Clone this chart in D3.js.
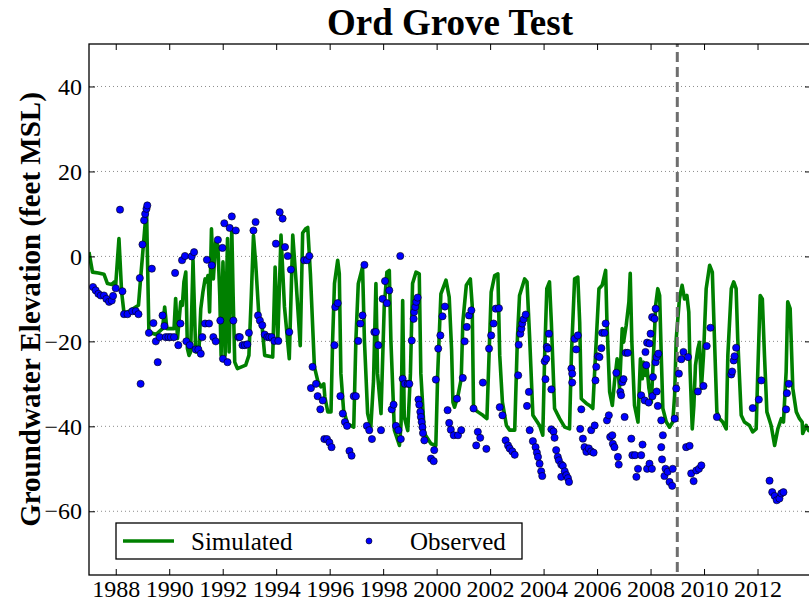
<!DOCTYPE html>
<html>
<head>
<meta charset="utf-8">
<script src="https://cdn.jsdelivr.net/npm/d3@7"></script>
<style>
  html, body { margin: 0; padding: 0; background: #fff; }
  svg { display: block; }
  text { font-family: "Liberation Serif", "DejaVu Serif", serif; fill: #000; }
</style>
</head>
<body>
<svg id="chart"></svg>
<script>
// Simulated groundwater elevation (decimal year, feet MSL)
const simYears = [
  1987.00, 1987.13, 1987.35, 1987.56, 1987.69, 1987.85, 1987.95, 1988.00, 1988.12, 1988.22,
  1988.31, 1988.56, 1988.85, 1988.93, 1989.15, 1989.24, 1989.50, 1989.75, 1989.83, 1989.91,
  1990.18, 1990.24, 1990.31, 1990.43, 1990.49, 1990.55, 1990.62, 1990.68, 1990.74, 1990.80,
  1990.89, 1990.99, 1991.11, 1991.18, 1991.26, 1991.34, 1991.39, 1991.45, 1991.51, 1991.58,
  1991.65, 1991.74, 1991.82, 1991.89, 1991.94, 1992.01, 1992.09, 1992.18, 1992.24, 1992.34,
  1992.39, 1992.45, 1992.55, 1992.86, 1992.98, 1993.07, 1993.15, 1993.23, 1993.36, 1993.48,
  1993.57, 1993.87, 1993.96, 1994.06, 1994.18, 1994.31, 1994.49, 1994.62, 1994.74, 1994.90,
  1994.99, 1995.10, 1995.18, 1995.28, 1995.43, 1995.55, 1995.67, 1995.78, 1995.82, 1995.93,
  1996.05, 1996.11, 1996.18, 1996.30, 1996.36, 1996.42, 1996.52, 1996.67, 1996.90, 1996.98,
  1997.07, 1997.23, 1997.30, 1997.42, 1997.54, 1997.64, 1997.73, 1997.79, 1997.92, 1998.04,
  1998.14, 1998.23, 1998.29, 1998.42, 1998.61, 1998.67, 1998.73, 1998.79, 1998.92, 1999.02,
  1999.10, 1999.23, 1999.35, 1999.41, 1999.54, 1999.79, 1999.97, 2000.04, 2000.16, 2000.35,
  2000.47, 2000.56, 2000.61, 2000.67, 2000.80, 2000.92, 2000.98, 2001.11, 2001.26, 2001.33,
  2001.38, 2001.54, 2001.73, 2001.88, 2001.96, 2002.04, 2002.17, 2002.29, 2002.36, 2002.46,
  2002.61, 2002.73, 2002.92, 2003.02, 2003.10, 2003.29, 2003.38, 2003.48, 2003.60, 2003.85,
  2003.97, 2004.04, 2004.12, 2004.22, 2004.29, 2004.41, 2004.60, 2004.79, 2004.97, 2005.04,
  2005.16, 2005.28, 2005.35, 2005.41, 2005.60, 2005.72, 2005.84, 2005.94, 2006.07, 2006.19,
  2006.32, 2006.37, 2006.47, 2006.57, 2006.65, 2006.75, 2006.84, 2006.94, 2006.99, 2007.09,
  2007.19, 2007.24, 2007.30, 2007.40, 2007.53, 2007.62, 2007.69, 2007.74, 2007.81, 2007.86,
  2007.94, 2008.03, 2008.11, 2008.19, 2008.27, 2008.34, 2008.40, 2008.46, 2008.59, 2008.71,
  2008.83, 2008.90, 2008.96, 2009.08, 2009.18, 2009.27, 2009.36, 2009.43, 2009.48, 2009.56,
  2009.62, 2009.68, 2009.77, 2009.83, 2009.90, 2009.98, 2010.08, 2010.21, 2010.31, 2010.39,
  2010.48, 2010.58, 2010.70, 2010.83, 2010.89, 2011.02, 2011.11, 2011.20, 2011.26, 2011.39,
  2011.51, 2011.70, 2011.82, 2011.95, 2012.01, 2012.10, 2012.18, 2012.26, 2012.35, 2012.51,
  2012.64, 2012.76, 2012.89, 2012.97, 2013.07, 2013.13, 2013.22, 2013.32, 2013.45, 2013.57,
  2013.67, 2013.69, 2013.82, 2013.91, 2014.00
];
const simElev = [
  1.0, -3.7, -3.9, -4.2, -6.4, -6.6, -6.0, -6.6, 4.2, -8.4,
  -13.4, -12.7, -11.5, -5.2, 11.5, -17.8, -18.4, -17.0, -11.9, -17.0,
  -17.0, -9.9, -19.3, -10.7, -11.5, -6.0, -3.7, -21.7, -23.3, -22.5,
  -0.9, -22.5, -22.5, -12.3, -8.4, -5.3, -6.0, -4.5, -13.1, 6.5,
  -5.3, 3.4, 2.6, -9.2, -23.3, -1.3, -23.3, 4.2, -22.5, 6.5,
  -9.2, -24.9, -26.4, -25.6, -23.3, -9.2, 4.9, -1.3, -14.7, -17.0,
  -23.3, -23.7, -2.5, -19.8, 5.0, -11.9, -24.1, 5.0, -5.6, -21.0,
  5.5, 6.5, 6.8, -4.1, -26.0, -29.2, -30.7, -30.0, -33.1, -36.6,
  -36.6, -19.8, -6.4, -0.9, -4.1, -27.6, -36.2, -39.4, -40.2, -19.8,
  -6.4, -2.5, -19.8, -37.0, -40.2, -29.2, -6.4, -27.6, -37.0, -11.9,
  -3.7, -3.3, -19.8, -40.9, -44.5, -39.4, -10.4, -37.8, -41.0, -27.6,
  -6.4, -3.7, -4.1, -27.6, -41.7, -44.1, -44.5, -27.6, -8.8, -5.6,
  -9.6, -22.0, -34.3, -35.5, -32.7, -28.8, -15.5, -6.8, -5.3, -11.5,
  -35.8, -36.6, -37.4, -38.2, -23.3, -8.4, -4.5, -4.1, -23.3, -34.3,
  -39.8, -40.9, -40.9, -19.4, -9.2, -5.3, -6.0, -19.4, -37.4, -39.8,
  -42.1, -23.3, -7.6, -6.0, -15.5, -35.8, -38.2, -40.2, -40.6, -23.3,
  -5.3, -4.9, -15.5, -33.5, -34.6, -35.1, -35.8, -23.3, -7.6, -6.8,
  -3.3, -15.5, -31.9, -35.1, -29.6, -24.1, -31.1, -17.0, -20.2, -16.2,
  -10.7, -4.0, -20.0, -35.1, -39.0, -24.1, -28.8, -24.9, -28.0, -25.6,
  -31.1, -34.3, -23.3, -11.5, -7.6, -9.2, -23.3, -35.8, -39.0, -40.2,
  -39.0, -32.7, -19.4, -10.0, -6.8, -10.0, -9.2, -13.1, -27.2, -40.6,
  -35.1, -25.6, -21.7, -20.2, -31.1, -23.3, -7.6, -2.1, -3.7, -19.4,
  -36.6, -38.2, -39.0, -40.6, -23.3, -7.6, -6.0, -7.6, -19.4, -37.4,
  -39.0, -39.8, -41.3, -40.6, -27.2, -9.2, -10.0, -23.3, -36.6, -39.8,
  -44.5, -40.6, -38.2, -39.0, -27.2, -10.7, -12.3, -31.1, -36.6, -38.2,
  -39.0, -41.7, -39.8, -41.0, -40.5
];

// Observed groundwater elevation (decimal year, feet MSL)
const obsYears = [
  1987.15, 1987.25, 1987.35, 1987.44, 1987.56, 1987.65, 1987.75, 1987.85, 1987.90, 1988.00,
  1988.16, 1988.25, 1988.31, 1988.44, 1988.62, 1988.75, 1988.85, 1988.90, 1988.93, 1989.00,
  1989.06, 1989.10, 1989.15, 1989.18, 1989.24, 1989.35, 1989.41, 1989.50, 1989.57, 1989.64,
  1989.75, 1989.82, 1989.87, 1989.97, 1990.06, 1990.18, 1990.22, 1990.34, 1990.42, 1990.48,
  1990.59, 1990.64, 1990.77, 1990.84, 1990.93, 1990.99, 1991.09, 1991.18, 1991.24, 1991.34,
  1991.41, 1991.49, 1991.59, 1991.65, 1991.74, 1991.82, 1991.91, 1991.99, 1992.01, 1992.06,
  1992.18, 1992.26, 1992.34, 1992.40, 1992.49, 1992.59, 1992.64, 1992.74, 1992.83, 1992.92,
  1992.98, 1993.15, 1993.23, 1993.32, 1993.39, 1993.48, 1993.57, 1993.67, 1993.74, 1993.83,
  1993.93, 1993.99, 1994.08, 1994.13, 1994.24, 1994.33, 1994.43, 1994.49, 1994.55, 1995.05,
  1995.15, 1995.24, 1995.30, 1995.36, 1995.49, 1995.55, 1995.65, 1995.74, 1995.80, 1995.90,
  1995.99, 1996.07, 1996.18, 1996.21, 1996.30, 1996.40, 1996.49, 1996.57, 1996.65, 1996.74,
  1996.82, 1996.90, 1996.98, 1997.07, 1997.15, 1997.23, 1997.30, 1997.39, 1997.48, 1997.58,
  1997.67, 1997.73, 1997.82, 1997.92, 1997.98, 1998.07, 1998.14, 1998.23, 1998.32, 1998.39,
  1998.48, 1998.57, 1998.64, 1998.66, 1998.73, 1998.81, 1998.92, 1998.98, 1999.07, 1999.14,
  1999.16, 1999.20, 1999.24, 1999.29, 1999.32, 1999.35, 1999.39, 1999.41, 1999.44, 1999.47,
  1999.49, 1999.54, 1999.79, 1999.89, 1999.91, 1999.97, 2000.06, 2000.14, 2000.22, 2000.31,
  2000.41, 2000.47, 2000.53, 2000.64, 2000.76, 2000.80, 2000.92, 2000.98, 2001.05, 2001.13,
  2001.21, 2001.30, 2001.38, 2001.48, 2001.54, 2001.63, 2001.73, 2001.86, 2001.96, 2002.04,
  2002.13, 2002.21, 2002.33, 2002.36, 2002.46, 2002.58, 2002.67, 2002.73, 2002.83, 2002.92,
  2003.05, 2003.07, 2003.13, 2003.17, 2003.20, 2003.25, 2003.33, 2003.38, 2003.45, 2003.48,
  2003.60, 2003.70, 2003.75, 2003.79, 2003.85, 2003.91, 2003.95, 2004.04, 2004.07, 2004.10,
  2004.12, 2004.16, 2004.20, 2004.29, 2004.29, 2004.37, 2004.41, 2004.47, 2004.53, 2004.57,
  2004.66, 2004.66, 2004.72, 2004.79, 2004.85, 2004.91, 2004.95, 2005.04, 2005.07, 2005.07,
  2005.16, 2005.22, 2005.28, 2005.37, 2005.41, 2005.47, 2005.53, 2005.60, 2005.69, 2005.78,
  2005.87, 2005.78, 2005.91, 2005.94, 2005.97, 2006.03, 2006.09, 2006.16, 2006.19, 2006.28,
  2006.32, 2006.37, 2006.44, 2006.49, 2006.57, 2006.59, 2006.65, 2006.72, 2006.78, 2006.81,
  2006.87, 2006.90, 2006.94, 2006.99, 2007.03, 2007.07, 2007.15, 2007.28, 2007.32, 2007.42,
  2007.47, 2007.53, 2007.65, 2007.70, 2007.87, 2007.96, 2008.05, 2007.65, 2007.78, 2007.93,
  2008.07, 2007.81, 2007.84, 2007.87, 2007.96, 2008.00, 2008.09, 2008.19, 2008.23, 2008.29,
  2008.06, 2008.15, 2008.19, 2008.23, 2008.27, 2008.40, 2008.46, 2008.40, 2008.43, 2008.56,
  2008.52, 2008.64, 2008.71, 2008.81, 2008.83, 2008.90, 2008.96, 2009.06, 2009.15, 2009.23,
  2009.40, 2009.33, 2009.46, 2009.52, 2009.61, 2009.71, 2009.81, 2009.90, 2009.77, 2009.98,
  2010.10, 2010.24, 2010.48, 2011.02, 2011.05, 2011.11, 2011.14, 2011.20, 2011.82, 2012.05,
  2012.14, 2012.45, 2012.55, 2012.64, 2012.72, 2012.82, 2012.89, 2012.97, 2013.07, 2013.10,
  2013.17
];
const obsElev = [
  -7.2, -8.0, -8.8, -9.2, -9.2, -10.0, -10.7, -10.4, -9.3, -7.5,
  11.0, -8.2, -13.6, -13.6, -12.9, -12.9, -13.6, -5.1, -30.0, 2.8,
  8.5, 10.0, 11.2, 12.0, -18.0, -2.9, -15.7, -20.0, -24.9, -19.0,
  -13.9, -16.4, -19.0, -19.0, -19.0, -19.0, -3.9, -20.9, -15.8, -0.9,
  0.1, -20.0, -20.9, 0.0, 1.0, -21.9, -21.9, -22.9, -19.0, -15.8,
  -0.8, -15.8, -2.1, -19.0, -20.0, 3.9, -15.1, 2.0, -24.1, 7.8,
  -24.9, 6.7, 9.4, -15.1, 6.1, -19.0, -19.0, -20.9, -20.9, -20.7,
  -18.0, 6.1, 8.1, -13.9, -15.1, -16.2, -18.4, -19.0, -19.0, -19.0,
  -19.9, 3.0, -19.9, 10.4, 8.9, 2.2, 0.1, -17.8, -3.1, -0.9,
  -0.9, 0.1, -31.0, -26.0, -30.0, -32.9, -36.0, -33.9, -43.0, -43.0,
  -43.8, -44.9, -20.9, -11.9, -11.0, -32.9, -37.0, -39.0, -39.9, -45.8,
  -46.9, -32.9, -32.9, -19.9, -15.8, -13.9, -2.0, -39.9, -40.9, -43.0,
  -17.8, -17.8, -20.9, -40.9, -10.0, -5.8, -11.0, -8.0, -36.0, -34.9,
  -39.9, -40.9, 0.1, -43.0, -28.8, -30.0, -30.0, -30.0, -19.8, -14.7,
  -13.1, -11.9, -10.7, -9.7, -33.7, -34.9, -36.6, -37.8, -39.0, -40.2,
  -41.6, -43.3, -47.6, -48.2, -45.6, -29.0, -21.7, -18.6, -14.1, -11.8,
  -36.2, -39.2, -40.8, -42.1, -33.5, -42.1, -40.9, -28.6, -20.0, -16.6,
  -13.9, -12.7, -35.8, -44.5, -41.3, -42.7, -29.7, -45.3, -21.7, -18.6,
  -15.8, -12.3, -12.2, -35.5, -37.4, -43.3, -44.5, -45.2, -45.9, -46.7,
  -28.0, -20.8, -18.2, -17.0, -15.8, -14.8, -13.7, -35.2, -31.9, -40.9,
  -43.5, -44.9, -46.2, -47.2, -48.8, -50.6, -51.7, -24.7, -28.9, -24.1,
  -21.3, -21.7, -18.2, -31.3, -40.7, -41.2, -42.7, -45.6, -47.2, -48.0,
  -49.0, -51.9, -49.3, -50.6, -51.5, -52.2, -53.1, -26.4, -27.6, -29.7,
  -19.4, -21.9, -18.6, -40.6, -36.0, -42.9, -44.9, -46.0, -45.2, -45.9,
  -46.2, -40.9, -39.8, -29.2, -26.0, -23.5, -23.7, -21.6, -18.0, -18.0,
  -15.8, -38.6, -37.4, -42.5, -42.1, -44.1, -44.9, -27.4, -47.2, -49.0,
  -31.9, -32.7, -29.6, -28.9, -37.8, -22.7, -22.7, -42.9, -46.8, -46.8,
  -51.9, -50.0, -46.8, -44.3, -50.0, -48.8, -50.0, -32.7, -33.9, -34.4,
  -32.9, -22.5, -25.6, -20.3, -20.5, -18.2, -28.4, -24.9, -23.7, -22.9,
  -14.3, -14.7, -12.3, -31.8, -35.2, -38.6, -42.1, -44.9, -47.8, -50.0,
  -51.7, -50.7, -53.1, -54.0, -50.0, -38.2, -31.1, -27.6, -24.2, -22.5,
  -23.7, -44.9, -44.6, -51.1, -52.9, -50.4, -50.0, -49.2, -31.8, -30.5,
  -21.1, -16.8, -37.8, -27.8, -27.1, -24.5, -23.5, -21.5, -35.7, -33.7,
  -29.2, -52.8, -55.5, -56.4, -57.4, -57.0, -55.8, -55.5, -36.0, -32.2,
  -30.0
];

const xTickYears = [1988, 1990, 1992, 1994, 1996, 1998, 2000, 2002, 2004, 2006, 2008, 2010, 2012];
const yTickValues = [-60, -40, -20, 0, 20, 40];
const calibrationEnd = 2009.0;
const legendLabels = ["Simulated", "Observed"];

const width = 809, height = 605;
const margin = { top: 44, right: -2, bottom: 30, left: 89 };

const svg = d3.select("#chart")
  .attr("width", width)
  .attr("height", height);

const x = d3.scaleLinear()
  .domain([1987, 2014])
  .range([margin.left, width - margin.right]);

const y = d3.scaleLinear()
  .domain([-75, 50])
  .range([height - margin.bottom, margin.top]);

const x0 = x.range()[0], x1 = x.range()[1];
const y0 = y.range()[0], y1 = y.range()[1];

svg.append("defs").append("clipPath")
  .attr("id", "plot-clip")
  .append("rect")
  .attr("x", x0).attr("y", y1)
  .attr("width", x1 - x0).attr("height", y0 - y1);

// dotted horizontal grid
svg.append("g")
  .selectAll("line")
  .data(yTickValues)
  .join("line")
    .attr("x1", x0).attr("x2", x1)
    .attr("y1", d => y(d)).attr("y2", d => y(d))
    .attr("stroke", "#8c8c8c")
    .attr("stroke-width", 1)
    .attr("stroke-dasharray", "1,3");

const plot = svg.append("g").attr("clip-path", "url(#plot-clip)");

const simData = simYears.map((t, i) => [t, simElev[i]]);
const obsData = obsYears.map((t, i) => [t, obsElev[i]]);

const line = d3.line()
  .x(d => x(d[0]))
  .y(d => y(d[1]));

plot.append("path")
  .datum(simData)
  .attr("fill", "none")
  .attr("stroke", "#008000")
  .attr("stroke-width", 3.6)
  .attr("stroke-linejoin", "round")
  .attr("d", line);

// end of calibration period
plot.append("line")
  .attr("x1", x(calibrationEnd)).attr("x2", x(calibrationEnd))
  .attr("y1", y1).attr("y2", y0)
  .attr("stroke", "#6e6e6e")
  .attr("stroke-width", 3)
  .attr("stroke-dasharray", "10,5")
  .attr("stroke-dashoffset", -8);

plot.append("g")
  .selectAll("circle")
  .data(obsData)
  .join("circle")
    .attr("cx", d => x(d[0]))
    .attr("cy", d => y(d[1]))
    .attr("r", 3.6)
    .attr("fill", "#0000ff")
    .attr("stroke", "#000")
    .attr("stroke-width", 0.6);

// axes: ticks inward on all four sides
const tickLen = 6;
const bottomAxis = d3.axisBottom(x).tickValues(xTickYears).tickSizeInner(-tickLen).tickSizeOuter(0)
  .tickPadding(5).tickFormat(d3.format("d"));
const topAxis = d3.axisTop(x).tickValues(xTickYears).tickSizeInner(-tickLen).tickSizeOuter(0).tickFormat("");
const leftAxis = d3.axisLeft(y).tickValues(yTickValues).tickSizeInner(-tickLen).tickSizeOuter(0).tickPadding(7);
const rightAxis = d3.axisRight(y).tickValues(yTickValues).tickSizeInner(-tickLen).tickSizeOuter(0).tickFormat("");

function styleAxis(g) {
  g.select(".domain").remove();
  g.selectAll(".tick line").attr("stroke", "#000").attr("stroke-width", 1);
  g.selectAll(".tick text")
    .attr("font-family", "Liberation Serif, serif")
    .attr("font-size", 24)
    .attr("fill", "#000");
}

svg.append("g").attr("transform", `translate(0,${y0})`).call(bottomAxis).call(styleAxis);
svg.append("g").attr("transform", `translate(0,${y1})`).call(topAxis).call(styleAxis);
svg.append("g").attr("transform", `translate(${x0},0)`).call(leftAxis).call(styleAxis);
svg.append("g").attr("transform", `translate(${x1},0)`).call(rightAxis).call(styleAxis);

// frame
svg.append("rect")
  .attr("x", x0).attr("y", y1)
  .attr("width", x1 - x0).attr("height", y0 - y1)
  .attr("fill", "none")
  .attr("stroke", "#000")
  .attr("stroke-width", 1.3);

// title
svg.append("text")
  .attr("x", (x0 + x1) / 2)
  .attr("y", 35)
  .attr("text-anchor", "middle")
  .attr("font-size", 37)
  .attr("font-weight", "bold")
  .text("Ord Grove Test");

// y label
svg.append("text")
  .attr("transform", `translate(40,${(y0 + y1) / 2}) rotate(-90)`)
  .attr("text-anchor", "middle")
  .attr("font-size", 29)
  .attr("font-weight", "bold")
  .text("Groundwater Elevation (feet MSL)");

// legend
const legend = svg.append("g");
legend.append("rect")
  .attr("x", 116).attr("y", 523)
  .attr("width", 406).attr("height", 36)
  .attr("fill", "#fff")
  .attr("stroke", "#000")
  .attr("stroke-width", 1.3);

legend.append("line")
  .attr("x1", 123).attr("x2", 174)
  .attr("y1", 541).attr("y2", 541)
  .attr("stroke", "#008000")
  .attr("stroke-width", 3.6);

legend.append("circle")
  .attr("cx", 369).attr("cy", 541)
  .attr("r", 3)
  .attr("fill", "#0000ff")
  .attr("stroke", "#000")
  .attr("stroke-width", 0.6);

legend.selectAll("text.lbl")
  .data(legendLabels)
  .join("text")
    .attr("class", "lbl")
    .attr("x", (d, i) => i === 0 ? 191 : 410)
    .attr("y", 550)
    .attr("font-size", 25)
    .text(d => d);
</script>
</body>
</html>
